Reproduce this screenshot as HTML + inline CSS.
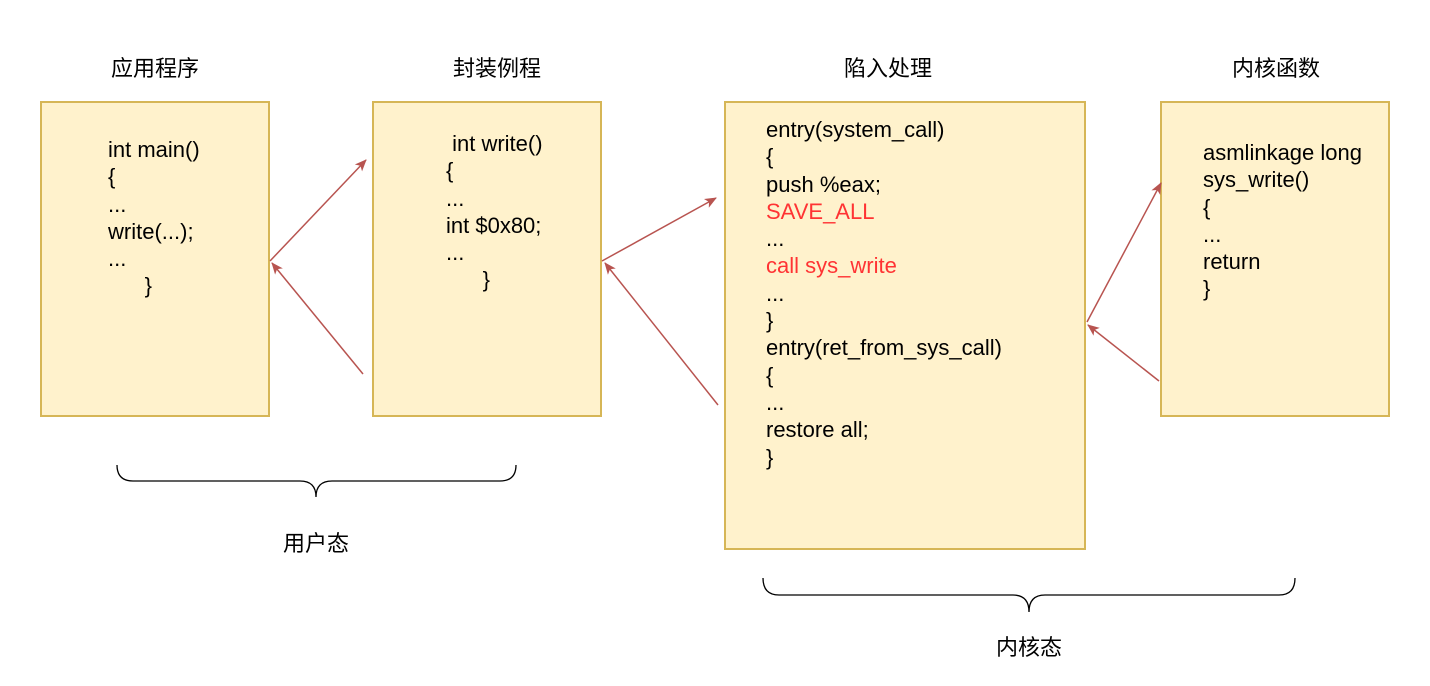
<!DOCTYPE html>
<html><head><meta charset="utf-8"><style>
body{margin:0;background:#fff;width:1430px;height:686px;overflow:hidden;position:relative;font-family:"Liberation Sans","Noto Sans CJK SC",sans-serif;}
.box{position:absolute;background:#fff2cc;border:2px solid #d6b656;box-sizing:border-box;}
.t{position:absolute;font-size:22px;color:#000;white-space:pre;line-height:27.3px;}
.h{position:absolute;font-size:22px;transform:translateX(-50%);}
.r{color:#ff3333;}
</style></head><body>
<div class="box" style="left:40px;top:101px;width:230px;height:316px"></div>
<div class="box" style="left:372px;top:101px;width:230px;height:316px"></div>
<div class="box" style="left:724px;top:101px;width:362px;height:449px"></div>
<div class="box" style="left:1160px;top:101px;width:230px;height:316px"></div>
<div class="h" style="left:155px;top:51px">应用程序</div>
<div class="h" style="left:497px;top:51px">封装例程</div>
<div class="h" style="left:888px;top:51px">陷入处理</div>
<div class="h" style="left:1276px;top:51px">内核函数</div>
<div class="h" style="left:316px;top:526px">用户态</div>
<div class="h" style="left:1029px;top:630px">内核态</div>
<div class="t" style="left:108px;top:136px">int main()
{
...
write(...);
...
      }</div>
<div class="t" style="left:446px;top:130px"> int write()
{
...
int $0x80;
...
      }</div>
<div class="t" style="left:766px;top:116px">entry(system_call)
{
push %eax;
<span class="r">SAVE_ALL</span>
...
<span class="r">call sys_write</span>
...
}
entry(ret_from_sys_call)
{
...
restore all;
}</div>
<div class="t" style="left:1203px;top:139px">asmlinkage long
sys_write()
{
...
return
}</div>
<svg width="1430" height="686" style="position:absolute;left:0;top:0">
<defs><marker id="a" markerWidth="12" markerHeight="12" refX="11" refY="6" orient="auto" markerUnits="userSpaceOnUse"><path d="M0,1 L12,6 L0,11 L3,6 z" fill="#b85450"/></marker></defs>
<g stroke="#b85450" stroke-width="1.5" fill="none" marker-end="url(#a)">
<line x1="270" y1="261" x2="366" y2="160"/>
<line x1="363" y1="374" x2="272" y2="263"/>
<line x1="602" y1="261" x2="716" y2="198"/>
<line x1="718" y1="405" x2="605" y2="263"/>
<line x1="1087" y1="322" x2="1161" y2="183"/>
<line x1="1159" y1="381" x2="1088" y2="325"/>
</g>
<g stroke="#000" stroke-width="1.3" fill="none">
<path d="M117,465 Q117,481 133,481 L300,481 Q316,481 316,497 Q316,481 332,481 L500,481 Q516,481 516,465"/>
<path d="M763,578 Q763,595 779,595 L1013,595 Q1029,595 1029,612 Q1029,595 1045,595 L1279,595 Q1295,595 1295,578"/>
</g>
</svg>
</body></html>
